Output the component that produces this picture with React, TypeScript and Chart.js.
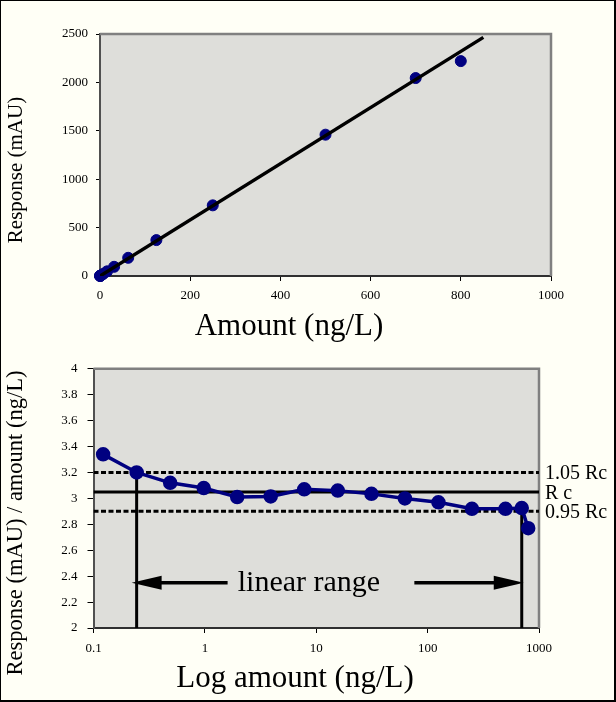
import React, { useEffect, useRef } from 'react';
import { Chart, registerables } from 'chart.js';

Chart.register(...registerables);

// ---- Data ----
const amounts = [0.122, 0.244, 0.488, 0.977, 1.95, 3.9, 7.8, 15.6, 31.3, 62.5, 125, 250, 500, 700, 800];
const responses = [0.41, 0.78, 1.52, 3.0, 5.9, 11.8, 24, 48, 95, 188, 371, 730, 1460, 2045, 2220];
const ratios = [3.34, 3.2, 3.12, 3.08, 3.01, 3.015, 3.07, 3.06, 3.035, 3.0, 2.97, 2.92, 2.92, 2.925, 2.77];

const trendX = [0, 850];
const trendY = [0, 2465];

const topXTicks = [0, 200, 400, 600, 800, 1000];
const topYTicks = [0, 500, 1000, 1500, 2000, 2500];
const logXTicks = [0.1, 1, 10, 100, 1000];
const ratioYTicks = [2, 2.2, 2.4, 2.6, 2.8, 3, 3.2, 3.4, 3.6, 3.8, 4];

const rc = 3.05;
const rcHigh = 3.2;
const rcLow = 2.9;
const rangeStart = 0.244;
const rangeStartY = 3.2;
const rangeEnd = 700;
const rangeEndY = 2.925;
const arrowLevel = 2.35;
const arrowShaftEnds = [1.6, 76];
const rangeLabelX = 8.6;

const limitLabels = ['1.05 Rc', 'R c', '0.95 Rc'];
const limitValues = [rcHigh, rc, rcLow];

const SERIF = "'Liberation Serif', 'Times New Roman', serif";
const tickFont = { family: SERIF, size: 13 };
const PLOT_BG = '#DEDEDA';
const NAVY = '#000080';

const plainNum = (v: any) => String(Number(Number(v).toFixed(3)));

const plotFrame = {
  id: 'plotFrame',
  beforeDraw(chart: any) {
    const { ctx, chartArea: a } = chart;
    ctx.save();
    ctx.fillStyle = PLOT_BG;
    ctx.fillRect(a.left, a.top, a.right - a.left, a.bottom - a.top);
    ctx.restore();
  },
  beforeDatasetsDraw(chart: any) {
    const { ctx, chartArea: a } = chart;
    ctx.save();
    ctx.strokeStyle = '#808080';
    ctx.lineWidth = 2.5;
    ctx.beginPath();
    ctx.moveTo(a.left, a.top);
    ctx.lineTo(a.right, a.top);
    ctx.lineTo(a.right, a.bottom);
    ctx.stroke();
    ctx.restore();
  },
};

function drawRotated(ctx: CanvasRenderingContext2D, text: string, x: number, y: number, size: number) {
  ctx.save();
  ctx.translate(x, y);
  ctx.rotate(-Math.PI / 2);
  ctx.font = `${size}px ${SERIF}`;
  ctx.fillStyle = '#000';
  ctx.textAlign = 'center';
  ctx.textBaseline = 'alphabetic';
  ctx.fillText(text, 0, 0);
  ctx.restore();
}

const topTitles = {
  id: 'topTitles',
  afterDraw(chart: any) {
    const { ctx } = chart;
    ctx.save();
    ctx.fillStyle = '#000';
    ctx.font = `31px ${SERIF}`;
    ctx.textAlign = 'center';
    ctx.textBaseline = 'alphabetic';
    ctx.fillText('Amount (ng/L)', 289, 335);
    ctx.restore();
    drawRotated(ctx, 'Response (mAU)', 21.5, 170, 21);
  },
};

const bottomDecor = {
  id: 'bottomDecor',
  afterDatasetsDraw(chart: any) {
    const { ctx, scales } = chart;
    const x = scales.x;
    const y = scales.y;
    ctx.save();
    ctx.fillStyle = '#000';
    ctx.strokeStyle = '#000';
    const ay = y.getPixelForValue(arrowLevel);
    // left arrow
    const lt = x.getPixelForValue(rangeStart) - 5;
    const ls = x.getPixelForValue(arrowShaftEnds[0]);
    ctx.lineWidth = 3.5;
    ctx.beginPath();
    ctx.moveTo(lt + 25, ay);
    ctx.lineTo(ls, ay);
    ctx.stroke();
    ctx.beginPath();
    ctx.moveTo(lt, ay);
    ctx.lineTo(lt + 30, ay - 7);
    ctx.lineTo(lt + 30, ay + 7);
    ctx.closePath();
    ctx.fill();
    // right arrow
    const rt = x.getPixelForValue(rangeEnd) + 2;
    const rs = x.getPixelForValue(arrowShaftEnds[1]);
    ctx.beginPath();
    ctx.moveTo(rs, ay);
    ctx.lineTo(rt - 25, ay);
    ctx.stroke();
    ctx.beginPath();
    ctx.moveTo(rt, ay);
    ctx.lineTo(rt - 30, ay - 7);
    ctx.lineTo(rt - 30, ay + 7);
    ctx.closePath();
    ctx.fill();
    // label
    ctx.font = `30px ${SERIF}`;
    ctx.textAlign = 'center';
    ctx.textBaseline = 'middle';
    ctx.fillText('linear range', x.getPixelForValue(rangeLabelX), ay);
    ctx.restore();
  },
  afterDraw(chart: any) {
    const { ctx, chartArea: a, scales } = chart;
    const y = scales.y;
    ctx.save();
    ctx.fillStyle = '#000';
    ctx.font = `20px ${SERIF}`;
    ctx.textAlign = 'left';
    ctx.textBaseline = 'middle';
    limitLabels.forEach((t, i) => {
      ctx.fillText(t, a.right + 6, y.getPixelForValue(limitValues[i]) + 1.5);
    });
    ctx.font = `31px ${SERIF}`;
    ctx.textAlign = 'center';
    ctx.textBaseline = 'alphabetic';
    ctx.fillText('Log amount (ng/L)', 295, 336);
    ctx.restore();
    drawRotated(ctx, 'Response (mAU) / amount (ng/L)', 21.5, 172, 22.5);
  },
};

export default function App() {
  const topRef = useRef<HTMLCanvasElement>(null);
  const botRef = useRef<HTMLCanvasElement>(null);

  useEffect(() => {
    const topChart = new Chart(topRef.current as HTMLCanvasElement, {
      type: 'scatter',
      data: {
        datasets: [
          {
            type: 'line',
            data: trendX.map((v, i) => ({ x: v, y: trendY[i] })),
            borderColor: '#000',
            borderWidth: 3.5,
            pointRadius: 0,
            order: 0,
          } as any,
          {
            type: 'scatter',
            data: amounts.map((v, i) => ({ x: v, y: responses[i] })),
            backgroundColor: NAVY,
            borderColor: NAVY,
            pointRadius: 5.5,
            pointHoverRadius: 5.5,
            clip: false,
            order: 1,
          } as any,
        ],
      },
      options: {
        responsive: false,
        animation: false,
        events: [],
        layout: { padding: { left: 0, top: 34, right: 65, bottom: 5 } },
        plugins: { legend: { display: false }, tooltip: { enabled: false } },
        scales: {
          x: {
            type: 'linear',
            min: topXTicks[0],
            max: topXTicks[topXTicks.length - 1],
            afterBuildTicks: (s: any) => { s.ticks = topXTicks.map((v) => ({ value: v })); },
            ticks: { font: tickFont, color: '#000', padding: 7, maxRotation: 0, callback: plainNum },
            grid: { drawOnChartArea: false, tickLength: 5, color: '#000', lineWidth: 1 },
            border: { color: '#303030', width: 2 },
            afterFit: (s: any) => { s.height = 70; },
          },
          y: {
            type: 'linear',
            min: topYTicks[0],
            max: topYTicks[topYTicks.length - 1],
            afterBuildTicks: (s: any) => { s.ticks = topYTicks.map((v) => ({ value: v })); },
            ticks: { font: tickFont, color: '#000', padding: 8, callback: plainNum },
            grid: { drawOnChartArea: false, tickLength: 4, color: '#000', lineWidth: 1 },
            border: { color: '#505050', width: 2 },
            afterFit: (s: any) => { s.width = 100; },
          },
        },
      } as any,
      plugins: [plotFrame, topTitles],
    });

    const lineDs = (pts: { x: number; y: number }[], dash: number[], width: number, order: number) => ({
      type: 'line',
      data: pts,
      borderColor: '#000',
      borderWidth: width,
      borderDash: dash,
      pointRadius: 0,
      order,
    });

    const botChart = new Chart(botRef.current as HTMLCanvasElement, {
      type: 'line',
      data: {
        datasets: [
          {
            type: 'line',
            data: amounts.map((v, i) => ({ x: v, y: ratios[i] })),
            borderColor: NAVY,
            backgroundColor: NAVY,
            borderWidth: 3.5,
            pointRadius: 5.5,
            pointHoverRadius: 5.5,
            pointStyle: 'circle',
            clip: false,
            order: 0,
          } as any,
          lineDs([{ x: logXTicks[0], y: rc }, { x: logXTicks[logXTicks.length - 1], y: rc }], [], 3, 1) as any,
          lineDs([{ x: logXTicks[0], y: rcHigh }, { x: logXTicks[logXTicks.length - 1], y: rcHigh }], [5, 2.5], 3, 2) as any,
          lineDs([{ x: logXTicks[0], y: rcLow }, { x: logXTicks[logXTicks.length - 1], y: rcLow }], [5, 2.5], 3, 3) as any,
          lineDs([{ x: rangeStart, y: rangeStartY }, { x: rangeStart, y: ratioYTicks[0] }], [], 3, 4) as any,
          lineDs([{ x: rangeEnd, y: rangeEndY }, { x: rangeEnd, y: ratioYTicks[0] }], [], 3, 5) as any,
        ],
      },
      options: {
        responsive: false,
        animation: false,
        events: [],
        layout: { padding: { left: 0, top: 17, right: 77, bottom: 14 } },
        plugins: { legend: { display: false }, tooltip: { enabled: false } },
        scales: {
          x: {
            type: 'logarithmic',
            min: logXTicks[0],
            max: logXTicks[logXTicks.length - 1],
            afterBuildTicks: (s: any) => { s.ticks = logXTicks.map((v) => ({ value: v })); },
            ticks: {
              font: tickFont,
              color: '#000',
              padding: 8,
              maxRotation: 0,
              autoSkip: false,
              callback: plainNum,
            },
            grid: { drawOnChartArea: false, tickLength: 5, color: '#000', lineWidth: 1 },
            border: { color: '#303030', width: 2 },
            afterFit: (s: any) => { s.height = 60; },
          },
          y: {
            type: 'linear',
            min: ratioYTicks[0],
            max: ratioYTicks[ratioYTicks.length - 1],
            afterBuildTicks: (s: any) => { s.ticks = ratioYTicks.map((v) => ({ value: v })); },
            ticks: {
              font: tickFont,
              color: '#000',
              padding: 10,
              callback: plainNum,
            },
            grid: { drawOnChartArea: false, tickLength: 6, color: '#000', lineWidth: 1 },
            border: { color: '#505050', width: 2 },
            afterFit: (s: any) => { s.width = 93.5; },
          },
        },
      } as any,
      plugins: [plotFrame, bottomDecor],
    });

    return () => {
      topChart.destroy();
      botChart.destroy();
    };
  }, []);

  return (
    <div
      style={{
        position: 'fixed',
        left: 0,
        top: 0,
        width: 616,
        height: 702,
        background: '#FFFFF6',
        overflow: 'hidden',
      }}
    >
      <canvas
        ref={topRef}
        width={616}
        height={351}
        style={{ position: 'absolute', left: 0, top: 0, width: 616, height: 351, display: 'block' }}
      />
      <canvas
        ref={botRef}
        width={616}
        height={351}
        style={{ position: 'absolute', left: 0, top: 351, width: 616, height: 351, display: 'block' }}
      />
      <div
        style={{
          position: 'absolute',
          inset: 0,
          boxSizing: 'border-box',
          borderStyle: 'solid',
          borderColor: '#000',
          borderWidth: '1px 2px 2px 1px',
          pointerEvents: 'none',
        }}
      />
    </div>
  );
}
